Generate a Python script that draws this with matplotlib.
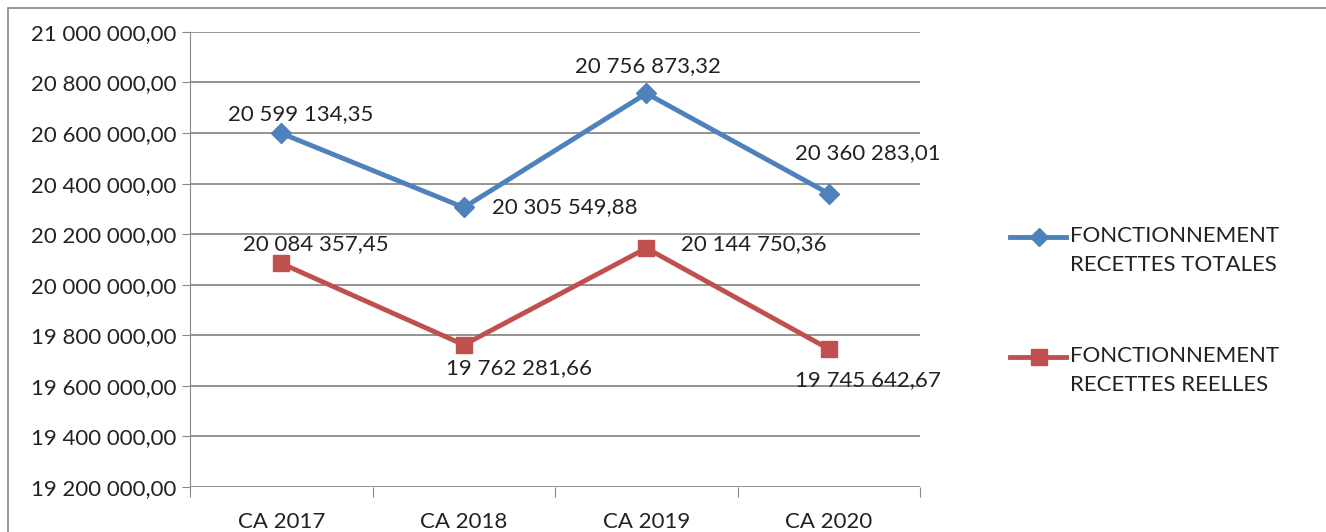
import matplotlib.pyplot as plt
from matplotlib.patches import Rectangle
from matplotlib.lines import Line2D

categories = ["CA 2017", "CA 2018", "CA 2019", "CA 2020"]
totales = [20599134.35, 20305549.88, 20756873.32, 20360283.01]
reelles = [20084357.45, 19762281.66, 20144750.36, 19745642.67]
labels_totales = ["20 599 134,35", "20 305 549,88", "20 756 873,32", "20 360 283,01"]
labels_reelles = ["20 084 357,45", "19 762 281,66", "20 144 750,36", "19 745 642,67"]
yticks = [19200000 + 200000 * i for i in range(10)]

plt.rcParams["font.family"] = ["Lato", "DejaVu Sans"]
FS = 16
TXT = "#222222"


def fmt(v):
    return "{:,.2f}".format(v).replace(",", " ").replace(".", ",")


fig = plt.figure(figsize=(13.26, 5.32), dpi=100)
ax = fig.add_axes([0.1433, 0.0846, 0.5507, 0.8554])

x = list(range(len(categories)))
blue = "#4F81BD"
red = "#C0504D"
ax.plot(x, totales, color=blue, lw=3.5, marker="D", ms=10, zorder=3)
ax.plot(x, reelles, color=red, lw=3.5, marker="s", ms=12, zorder=3)

ax.set_xlim(-0.5, 3.5)
ax.set_ylim(19200000, 21000000)
ax.set_yticks(yticks)
ax.set_yticklabels([fmt(v) for v in yticks], fontsize=FS, color=TXT)
ax.set_xticks([-0.5, 0.5, 1.5, 2.5, 3.5])
ax.set_xticklabels([])
ax.tick_params(axis="x", length=7, color="#888888")
ax.tick_params(axis="y", length=6, color="#888888", pad=4)
for i, c in enumerate(categories):
    ax.text(i, -0.055, c, transform=ax.get_xaxis_transform(), ha="center", va="top",
            fontsize=FS, color=TXT)

ax.grid(axis="y", color="#808080", lw=1.2)
ax.set_axisbelow(True)
for s in ["top", "right", "bottom"]:
    ax.spines[s].set_visible(False)
ax.spines["left"].set_color("#888888")

# data labels (offsets in points)
off_t = [(14, 14), (73, 0), (1, 20), (28, 29)]
off_r = [(25, 14), (40, -17), (77, 3), (28, -22)]
for i in x:
    ax.annotate(labels_totales[i], (i, totales[i]), xytext=off_t[i], textcoords="offset points",
                ha="center", va="center", fontsize=FS, color=TXT)
    ax.annotate(labels_reelles[i], (i, reelles[i]), xytext=off_r[i], textcoords="offset points",
                ha="center", va="center", fontsize=FS, color=TXT)

# legend drawn by hand (marker aligned with first text line)
W, H = 1326.0, 532.0
legend_items = [(blue, "D", 9, 237, "FONCTIONNEMENT\nRECETTES TOTALES"),
                (red, "s", 11, 357, "FONCTIONNEMENT\nRECETTES REELLES")]
for col, mk, ms, ypx, lab in legend_items:
    yf = 1 - ypx / H
    fig.add_artist(Line2D([1010 / W, 1066 / W], [yf, yf], color=col, lw=3.5,
                          transform=fig.transFigure))
    fig.add_artist(Line2D([1039 / W], [yf], color=col, marker=mk, ms=ms,
                          transform=fig.transFigure))
    fig.text(1070 / W, yf + 11 / H, lab, ha="left", va="top", fontsize=FS, color=TXT,
             linespacing=1.55)

fig.patches.append(Rectangle((0.006, -0.01), 1.2, 0.995, transform=fig.transFigure,
                             fill=False, edgecolor="#888888", lw=1.2))

fig.savefig("out.png", dpi=100)
